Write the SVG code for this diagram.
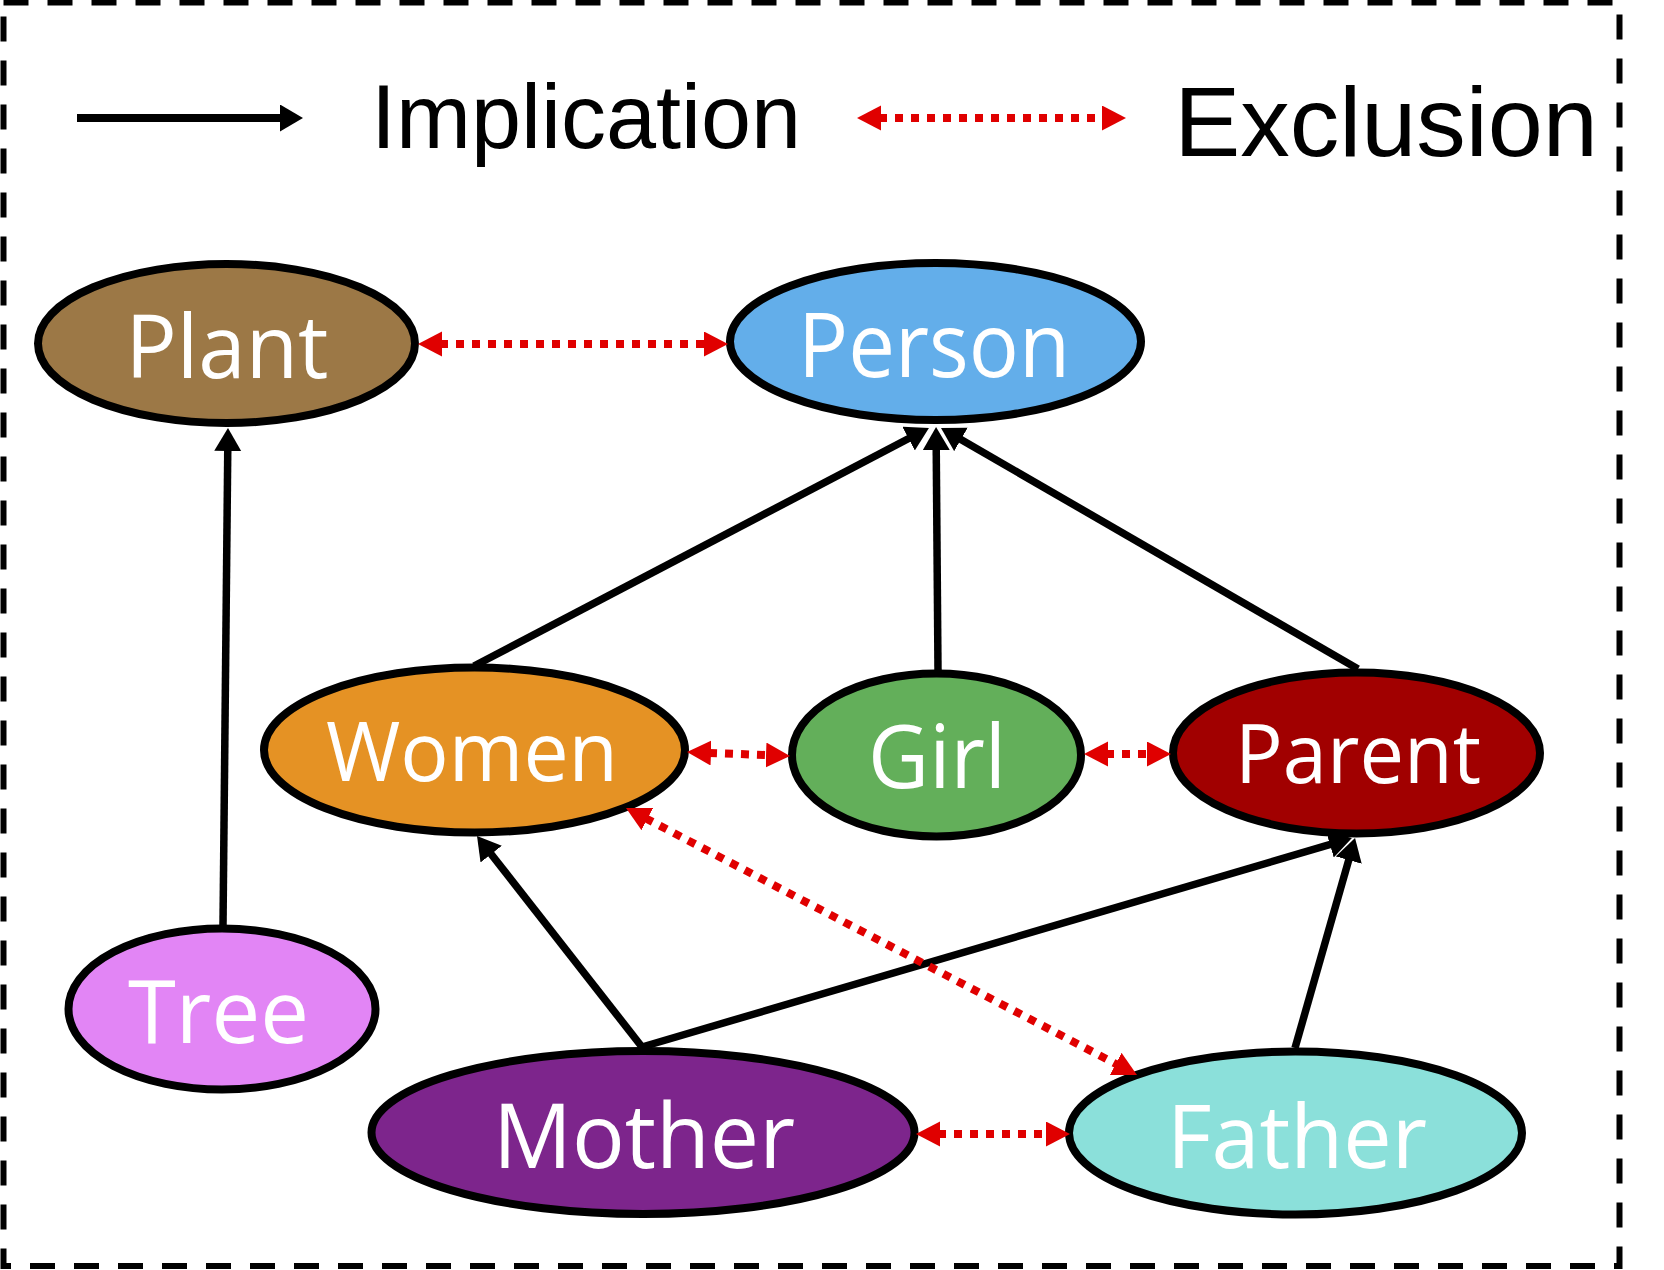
<svg xmlns="http://www.w3.org/2000/svg" width="1664" height="1270" viewBox="0 0 1664 1270">
<style>
.node{stroke:#000;stroke-width:8}
.lbl{font-family:"Open Sans","Noto Sans","DejaVu Sans",sans-serif;fill:#fff;text-anchor:middle}
.imp{stroke:#000;stroke-width:7.5;fill:none;marker-end:url(#ah)}
.exc{stroke:#E00000;stroke-width:8;stroke-dasharray:8 8;fill:none;marker-start:url(#rh);marker-end:url(#rh)}
.leg{font-family:"Liberation Sans",Arial,sans-serif;fill:#000;text-anchor:middle}
</style>
<defs>
<marker id="ah" markerUnits="userSpaceOnUse" markerWidth="24" markerHeight="28" refX="5" refY="13.5" orient="auto">
<path d="M0,0 L23,13.5 L0,27 z" fill="#000"/>
</marker>
<marker id="rh" markerUnits="userSpaceOnUse" markerWidth="26" markerHeight="26" refX="2" refY="12.5" orient="auto-start-reverse">
<path d="M0,0 L24,12.5 L0,25 z" fill="#E00000"/>
</marker>
</defs>
<rect x="3.5" y="2.5" width="1616" height="1263.5" fill="none" stroke="#000" stroke-width="6" stroke-dasharray="25 19"/>
<g id="legend">
<line x1="77" y1="118" x2="285" y2="118" stroke="#000" stroke-width="8" marker-end="url(#ah)"/>
<text class="leg" x="586" y="148" font-size="90">Implication</text>
<line class="exc" x1="879" y1="118" x2="1104" y2="118"/>
<text class="leg" x="1386" y="156" font-size="99">Exclusion</text>
</g>
<g id="node-plant"><ellipse class="node" cx="226.5" cy="343.5" rx="188.5" ry="79.5" fill="#9C7846"/><text class="lbl" x="227" y="378" font-size="88" textLength="203" lengthAdjust="spacingAndGlyphs">Plant</text></g>
<g id="node-person"><ellipse class="node" cx="935.5" cy="341.5" rx="205.5" ry="78.5" fill="#63AEEA"/><text class="lbl" x="934" y="377" font-size="90" textLength="272" lengthAdjust="spacingAndGlyphs">Person</text></g>
<g id="node-women"><ellipse class="node" cx="474.5" cy="750" rx="210.5" ry="82.5" fill="#E59224"/><text class="lbl" x="472" y="781" font-size="82" textLength="292" lengthAdjust="spacingAndGlyphs">Women</text></g>
<g id="node-girl"><ellipse class="node" cx="936.5" cy="755" rx="144.5" ry="81.5" fill="#63AF5A"/><text class="lbl" x="937" y="788" font-size="87" textLength="138" lengthAdjust="spacingAndGlyphs">Girl</text></g>
<g id="node-parent"><ellipse class="node" cx="1356.5" cy="753" rx="183.5" ry="80.5" fill="#A10000"/><text class="lbl" x="1358" y="783" font-size="82" textLength="246" lengthAdjust="spacingAndGlyphs">Parent</text></g>
<g id="node-tree"><ellipse class="node" cx="222" cy="1009" rx="153.5" ry="80.5" fill="#E285F5"/><text class="lbl" x="218.5" y="1043" font-size="88" textLength="181" lengthAdjust="spacingAndGlyphs">Tree</text></g>
<g id="node-mother"><ellipse class="node" cx="643" cy="1132.5" rx="271.5" ry="81.5" fill="#7D258C"/><text class="lbl" x="644" y="1168" font-size="90" textLength="302" lengthAdjust="spacingAndGlyphs">Mother</text></g>
<g id="node-father"><ellipse class="node" cx="1295.5" cy="1133" rx="226.5" ry="81.5" fill="#8BE0DA"/><text class="lbl" x="1297" y="1168" font-size="88" textLength="260" lengthAdjust="spacingAndGlyphs">Father</text></g>
<g id="connectors">
<line class="imp" x1="223" y1="925" x2="227.8" y2="446"/>
<line class="imp" x1="474" y1="666" x2="913" y2="436.3"/>
<line class="imp" x1="938" y1="670" x2="936.2" y2="445"/>
<line class="imp" x1="1358" y1="669" x2="956.6" y2="437"/>
<line class="imp" x1="642" y1="1047" x2="488.1" y2="850.2"/>
<line class="imp" x1="642" y1="1047" x2="1334.7" y2="843.1"/>
<line class="imp" x1="1295" y1="1048" x2="1350.1" y2="855.3"/>
<line class="exc" x1="440" y1="344" x2="706" y2="344"/>
<line class="exc" x1="709" y1="752.9" x2="768" y2="755.1"/>
<line class="exc" x1="1106" y1="754" x2="1149" y2="754"/>
<line class="exc" x1="645.5" y1="818.2" x2="1117.5" y2="1064.8"/>
<line class="exc" x1="938" y1="1134" x2="1048" y2="1134"/>
</g>
</svg>
